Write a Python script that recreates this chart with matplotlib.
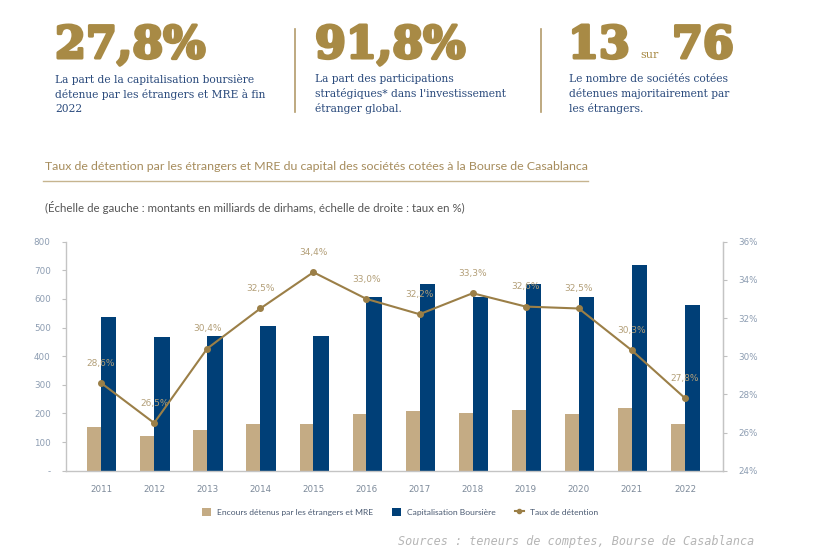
import matplotlib
matplotlib.use("Agg")
import matplotlib.pyplot as plt
from matplotlib.patches import Patch
from matplotlib.lines import Line2D
import matplotlib.patheffects as pe
import numpy as np

years = ["2011", "2012", "2013", "2014", "2015", "2016", "2017", "2018", "2019", "2020", "2021", "2022"]
encours = [153, 121, 142, 163, 163, 198, 209, 202, 212, 198, 219, 163]
capitalisation = [537, 467, 471, 506, 471, 607, 653, 607, 653, 607, 719, 579]
taux = [28.6, 26.5, 30.4, 32.5, 34.4, 33.0, 32.2, 33.3, 32.6, 32.5, 30.3, 27.8]
taux_labels = ["28,6%", "26,5%", "30,4%", "32,5%", "34,4%", "33,0%", "32,2%", "33,3%", "32,6%", "32,5%", "30,3%", "27,8%"]
left_ticks = [0, 100, 200, 300, 400, 500, 600, 700, 800]
left_ticklabels = ["-", "100", "200", "300", "400", "500", "600", "700", "800"]
right_ticks = [24, 26, 28, 30, 32, 34, 36]

TAN = "#c4ab84"
BLUE = "#003f77"
LINE = "#9b7f47"
GOLD = "#a88a45"
DESC = "#2a4a7c"
TICK = "#8d9db2"

W, H = 822, 558
fig = plt.figure(figsize=(W / 100, H / 100), dpi=100)

def P(x, y):
    return (x / W, 1 - y / H)

# --- Header key figures ---
thick = [pe.withStroke(linewidth=2.2, foreground=GOLD)]
big = dict(fontsize=32, fontweight="bold", color=GOLD, family="DejaVu Serif", va="baseline", ha="left",
           path_effects=thick)
fig.text(*P(55, 58), "27,8%", **big)
fig.text(*P(315, 58), "91,8%", **big)
fig.text(*P(568, 58), "13", **big)
fig.text(*P(640, 58), "sur", fontsize=8, color=GOLD, family="DejaVu Serif", va="baseline", ha="left")
fig.text(*P(672, 58), "76", **big)

desc = dict(fontsize=7.7, color=DESC, family="DejaVu Serif", va="top", ha="left", linespacing=1.45)
fig.text(*P(55, 74), "La part de la capitalisation boursière\ndétenue par les étrangers et MRE à fin\n2022", **desc)
fig.text(*P(315, 74), "La part des participations\nstratégiques* dans l'investissement\nétranger global.", **desc)
fig.text(*P(569, 74), "Le nombre de sociétés cotées\ndétenues majoritairement par\nles étrangers.", **desc)

for xs in (295, 541):
    fig.add_artist(Line2D([xs / W, xs / W], [1 - 29 / H, 1 - 112 / H], color="#b39b6b", lw=1.2))

# --- Chart title & subtitle ---
fig.text(*P(45, 166), "Taux de détention par les étrangers et MRE du capital des sociétés cotées à la Bourse de Casablanca",
         fontsize=8.95, color="#a68c5c", family="Lato", va="center", ha="left")
fig.add_artist(Line2D([43 / W, 588 / W], [1 - 181 / H, 1 - 181 / H], color="#c6b48f", lw=1.0))
fig.text(*P(45, 207), "(Échelle de gauche : montants en milliards de dirhams, échelle de droite : taux en %)",
         fontsize=8.3, color="#555555", family="Lato", va="center", ha="left")

# --- Chart ---
ax = fig.add_axes([66 / W, 1 - 470.7 / H, (722.7 - 66) / W, (470.7 - 241.7) / H])
x = np.arange(len(years))
ax.bar(x - 0.13, encours, width=0.26, color=TAN, zorder=2)
ax.bar(x + 0.145, capitalisation, width=0.29, color=BLUE, zorder=2)
ax.set_xlim(-0.66, 11.71)
ax.set_ylim(0, 800)
ax.set_yticks(left_ticks)
ax.set_yticklabels(left_ticklabels)
ax.set_xticks(x)
ax.set_xticklabels(years)
ax.tick_params(axis="y", colors="#c0c0c0", labelcolor=TICK, labelsize=6.3, length=3, width=0.8, pad=8)
ax.tick_params(axis="x", length=0, labelsize=6.3, labelcolor="#7d8a9a", pad=10)
ax.spines["top"].set_visible(False)
for s in ("left", "bottom", "right"):
    ax.spines[s].set_color("#c4c4c4")
    ax.spines[s].set_linewidth(1.0)

ax2 = ax.twinx()
ax2.plot(x, taux, color=LINE, lw=1.5, marker="o", markersize=4, zorder=5)
ax2.set_ylim(24, 36)
ax2.set_yticks(right_ticks)
ax2.set_yticklabels([f"{t}%" for t in right_ticks])
ax2.tick_params(axis="y", colors="#c0c0c0", labelcolor=TICK, labelsize=6.3, length=3, width=0.8, pad=8)
for s in ("top", "left", "bottom"):
    ax2.spines[s].set_visible(False)
ax2.spines["right"].set_color("#c4c4c4")
for xi, t, lab in zip(x, taux, taux_labels):
    ax2.annotate(lab, (xi, t), xytext=(0, 11), textcoords="offset points", ha="center", va="bottom",
                 fontsize=6.5, color="#b39f78")

# --- Legend ---
handles = [Patch(facecolor=TAN, edgecolor="none"),
           Patch(facecolor=BLUE, edgecolor="none"),
           Line2D([], [], color=LINE, lw=1.5, marker="o", markersize=3)]
labels = ["Encours détenus par les étrangers et MRE", "Capitalisation Boursière", "Taux de détention"]
fig.legend(handles, labels, loc="center", bbox_to_anchor=(400 / W, 1 - 512 / H), ncol=3, frameon=False,
           labelcolor="#4a5a72", handlelength=1.1, handleheight=1.1, columnspacing=2.2,
           handletextpad=0.7, prop={"family": "Lato", "size": 6.1})

fig.text(*P(398, 542), "Sources : teneurs de comptes, Bourse de Casablanca", fontsize=8.5, color="#b5b5b5",
         family="DejaVu Sans Mono", style="italic", va="center", ha="left")

fig.savefig("out.png", dpi=100)
